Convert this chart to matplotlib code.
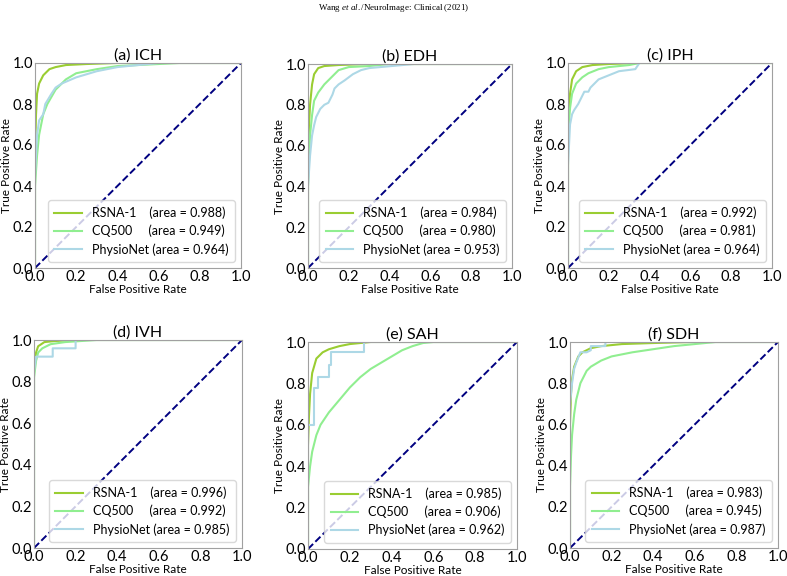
import matplotlib
matplotlib.use('Agg')
import matplotlib.pyplot as plt
import numpy as np

plt.rcParams['font.family'] = ['Lato', 'DejaVu Sans']

titles = ['(a) ICH', '(b) EDH', '(c) IPH', '(d) IVH', '(e) SAH', '(f) SDH']
series_names = ['RSNA-1', 'CQ500', 'PhysioNet']
label_pads = ['RSNA-1    ', 'CQ500     ', 'PhysioNet ']
series_colors = ['yellowgreen', 'lightgreen', 'lightblue']

# AUC values per panel, in order RSNA-1, CQ500, PhysioNet
areas = [
    [0.988, 0.949, 0.964],
    [0.984, 0.980, 0.953],
    [0.992, 0.981, 0.964],
    [0.996, 0.992, 0.985],
    [0.985, 0.906, 0.962],
    [0.983, 0.945, 0.987],
]

# ROC curves: (fpr list, tpr list)
ich_rsna_fpr = [0, 0, 0.005, 0.01, 0.02, 0.04, 0.07, 0.1, 0.15, 0.25, 0.4, 1]
ich_rsna_tpr = [0, 0.55, 0.75, 0.85, 0.9, 0.94, 0.97, 0.98, 0.99, 0.995, 1.0, 1]
ich_cq_fpr = [0, 0, 0.01, 0.02, 0.04, 0.06, 0.1, 0.15, 0.2, 0.3, 0.4, 0.5, 0.7, 1]
ich_cq_tpr = [0, 0.4, 0.55, 0.65, 0.75, 0.8, 0.87, 0.92, 0.95, 0.97, 0.985, 0.99, 1.0, 1]
ich_phy_fpr = [0, 0, 0.01, 0.02, 0.04, 0.05, 0.08, 0.1, 0.13, 0.2, 0.3, 0.4, 0.5, 0.6, 1]
ich_phy_tpr = [0, 0.45, 0.65, 0.72, 0.75, 0.8, 0.85, 0.88, 0.9, 0.93, 0.96, 0.98, 0.99, 1.0, 1]

edh_rsna_fpr = [0, 0, 0.005, 0.01, 0.02, 0.03, 0.05, 0.08, 0.15, 0.3, 1]
edh_rsna_tpr = [0, 0.5, 0.7, 0.8, 0.9, 0.95, 0.98, 0.99, 0.995, 1.0, 1]
edh_cq_fpr = [0, 0, 0.01, 0.02, 0.03, 0.05, 0.08, 0.12, 0.15, 0.2, 0.3, 0.4, 1]
edh_cq_tpr = [0, 0.4, 0.65, 0.75, 0.82, 0.86, 0.9, 0.94, 0.97, 0.985, 0.99, 1.0, 1]
edh_phy_fpr = [0, 0, 0.01, 0.02, 0.03, 0.04, 0.06, 0.08, 0.1, 0.11, 0.12, 0.13, 0.15,
               0.18, 0.22, 0.26, 0.3, 0.52, 1]
edh_phy_tpr = [0, 0.4, 0.55, 0.65, 0.7, 0.74, 0.78, 0.8, 0.81, 0.83, 0.85, 0.88, 0.9,
               0.92, 0.95, 0.97, 0.98, 1.0, 1]

iph_rsna_fpr = [0, 0, 0.01, 0.02, 0.04, 0.07, 0.12, 0.2, 0.35, 1]
iph_rsna_tpr = [0, 0.7, 0.85, 0.92, 0.96, 0.98, 0.99, 0.995, 1.0, 1]
iph_cq_fpr = [0, 0, 0.01, 0.02, 0.04, 0.07, 0.1, 0.15, 0.2, 0.3, 0.35, 1]
iph_cq_tpr = [0, 0.65, 0.78, 0.85, 0.9, 0.93, 0.95, 0.97, 0.98, 0.99, 1.0, 1]
iph_phy_fpr = [0, 0, 0.01, 0.02, 0.03, 0.05, 0.06, 0.08, 0.1, 0.11, 0.13, 0.15, 0.2,
               0.25, 0.33, 0.35, 1]
iph_phy_tpr = [0, 0.5, 0.7, 0.75, 0.77, 0.8, 0.82, 0.86, 0.86, 0.88, 0.9, 0.92, 0.94,
               0.96, 0.97, 1.0, 1]

ivh_rsna_fpr = [0, 0, 0.01, 0.02, 0.05, 0.1, 0.2, 1]
ivh_rsna_tpr = [0, 0.85, 0.94, 0.97, 0.99, 0.995, 1.0, 1]
ivh_cq_fpr = [0, 0, 0.01, 0.02, 0.04, 0.08, 0.15, 0.3, 1]
ivh_cq_tpr = [0, 0.82, 0.9, 0.94, 0.96, 0.98, 0.99, 1.0, 1]
ivh_phy_fpr = [0, 0, 0.01, 0.09, 0.09, 0.2, 0.2, 1]
ivh_phy_tpr = [0, 0.85, 0.92, 0.92, 0.96, 0.96, 1.0, 1]

sah_rsna_fpr = [0, 0, 0.005, 0.01, 0.02, 0.04, 0.07, 0.1, 0.15, 0.2, 0.3, 1]
sah_rsna_tpr = [0, 0.5, 0.65, 0.75, 0.85, 0.92, 0.95, 0.965, 0.98, 0.99, 1.0, 1]
sah_cq_fpr = [0, 0, 0.01, 0.02, 0.04, 0.06, 0.1, 0.15, 0.2, 0.25, 0.3, 0.35, 0.4,
              0.45, 0.5, 0.55, 0.6, 1]
sah_cq_tpr = [0, 0.3, 0.4, 0.47, 0.55, 0.6, 0.66, 0.72, 0.78, 0.83, 0.87, 0.9, 0.93,
              0.96, 0.98, 0.995, 1.0, 1]
sah_phy_fpr = [0, 0, 0.03, 0.03, 0.05, 0.05, 0.1, 0.1, 0.11, 0.11, 0.27, 0.27, 1]
sah_phy_tpr = [0, 0.6, 0.6, 0.78, 0.78, 0.83, 0.83, 0.89, 0.89, 0.95, 0.95, 1.0, 1]

sdh_rsna_fpr = [0, 0, 0.005, 0.01, 0.02, 0.04, 0.06, 0.1, 0.15, 0.25, 0.4, 0.6, 1]
sdh_rsna_tpr = [0, 0.6, 0.75, 0.82, 0.88, 0.93, 0.95, 0.97, 0.98, 0.99, 0.995, 1.0, 1]
sdh_cq_fpr = [0, 0, 0.005, 0.01, 0.02, 0.03, 0.05, 0.08, 0.1, 0.15, 0.2, 0.3, 0.4,
              0.5, 0.6, 0.7, 1]
sdh_cq_tpr = [0, 0.3, 0.45, 0.55, 0.65, 0.72, 0.8, 0.86, 0.88, 0.91, 0.93, 0.95, 0.965,
              0.98, 0.99, 1.0, 1]
sdh_phy_fpr = [0, 0, 0.01, 0.02, 0.03, 0.05, 0.08, 0.1, 0.1, 0.17, 0.17, 1]
sdh_phy_tpr = [0, 0.7, 0.8, 0.87, 0.9, 0.95, 0.95, 0.96, 0.98, 0.98, 1.0, 1]

curves = [
    [(ich_rsna_fpr, ich_rsna_tpr), (ich_cq_fpr, ich_cq_tpr), (ich_phy_fpr, ich_phy_tpr)],
    [(edh_rsna_fpr, edh_rsna_tpr), (edh_cq_fpr, edh_cq_tpr), (edh_phy_fpr, edh_phy_tpr)],
    [(iph_rsna_fpr, iph_rsna_tpr), (iph_cq_fpr, iph_cq_tpr), (iph_phy_fpr, iph_phy_tpr)],
    [(ivh_rsna_fpr, ivh_rsna_tpr), (ivh_cq_fpr, ivh_cq_tpr), (ivh_phy_fpr, ivh_phy_tpr)],
    [(sah_rsna_fpr, sah_rsna_tpr), (sah_cq_fpr, sah_cq_tpr), (sah_phy_fpr, sah_phy_tpr)],
    [(sdh_rsna_fpr, sdh_rsna_tpr), (sdh_cq_fpr, sdh_cq_tpr), (sdh_phy_fpr, sdh_phy_tpr)],
]

# axes boxes in pixels: left, top, right, bottom
W, H = 787, 576
boxes = [
    (35, 63, 241, 268), (308, 64, 512, 268), (568, 63, 772, 268),
    (34, 340, 242, 548), (308, 342, 517, 549), (570, 342, 778, 548),
]

fig = plt.figure(figsize=(W / 100, H / 100), dpi=100)

plt.rcParams['mathtext.fontset'] = 'custom'
plt.rcParams['mathtext.rm'] = 'Liberation Serif'
plt.rcParams['mathtext.it'] = 'Liberation Serif:italic'
fig.text(0.5, 1 - 8 / H, r'Wang $\mathit{et\ al.}$/NeuroImage: Clinical (2021)',
         ha='center', va='center', fontsize=6.5, family='Liberation Serif')

for i in range(6):
    l, t, r, b = boxes[i]
    ax = fig.add_axes([l / W, 1 - b / H, (r - l) / W, (b - t) / H])
    for j in range(3):
        fpr, tpr = curves[i][j]
        ax.plot(fpr, tpr, color=series_colors[j], lw=1.5,
                label='{}(area = {:.3f})'.format(label_pads[j], areas[i][j]))
    ax.plot([0, 1], [0, 1], color='navy', lw=1.4, linestyle='--')
    ax.set_xlim(0.0, 1.0)
    ax.set_ylim(0.0, 1.0)
    ax.set_xticks(np.arange(0, 1.01, 0.2))
    ax.set_yticks(np.arange(0, 1.01, 0.2))
    ax.tick_params(labelsize=10.5, length=0, pad=1.5)
    for s in ax.spines.values():
        s.set_color('#a0a0a0')
        s.set_linewidth(0.8)
    ax.set_title(titles[i], fontsize=11.5, pad=1)
    ax.set_xlabel('False Positive Rate', fontsize=8.5, labelpad=0)
    ax.set_ylabel('True Positive Rate', fontsize=8.5, labelpad=0)
    leg = ax.legend(loc='lower right', fontsize=9, handlelength=2.2,
                    borderpad=0.5, labelspacing=0.45, fancybox=True)
    leg.get_frame().set_edgecolor('#d0d0d0')

fig.savefig('out.png', dpi=100)
